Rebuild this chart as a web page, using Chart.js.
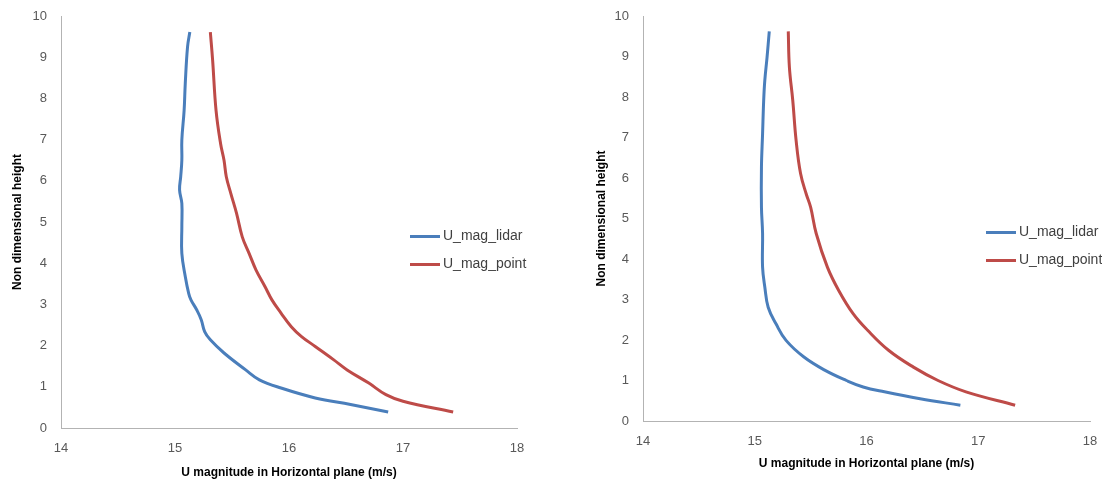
<!DOCTYPE html>
<html>
<head>
<meta charset="utf-8">
<script src="https://cdn.jsdelivr.net/npm/chart.js@4.4.1/dist/chart.umd.min.js"></script>
<style>
    html, body { margin: 0; padding: 0; background: #fff; }
    .panel { position: absolute; top: 0; width: 551px; height: 482px; }
    .legend { position: absolute; font: 14px "Liberation Sans", Arial, sans-serif; color: #404040; }
    .legend div { height: 28px; line-height: 28px; white-space: nowrap; }
    .legend span { display: inline-block; width: 30px; height: 3px; vertical-align: middle; margin-right: 3px; }
</style>
</head>
<body>
<div class="panel" style="left:0">
    <canvas id="leftChart" width="551" height="482"></canvas>
    <div class="legend" style="left:410px; top:221px">
        <div><span style="background:#4a7ebb"></span>U_mag_lidar</div>
        <div><span style="background:#be4b48"></span>U_mag_point</div>
    </div>
</div>
<div class="panel" style="left:551px">
    <canvas id="rightChart" width="551" height="482"></canvas>
    <div class="legend" style="left:435px; top:217px">
        <div><span style="background:#4a7ebb"></span>U_mag_lidar</div>
        <div><span style="background:#be4b48"></span>U_mag_point</div>
    </div>
</div>
<script>
// Left chart: velocity (x) vs non dimensional height (y)
const leftLidarU = [15.13, 15.11, 15.09, 15.08, 15.06, 15.06, 15.05, 15.04, 15.06, 15.06, 15.06, 15.09, 15.12, 15.14, 15.19, 15.23, 15.26, 15.31, 15.43, 15.62, 15.74, 15.93, 16.23, 16.54, 16.87];
const leftLidarH = [9.61, 9.25, 8.36, 7.71, 6.99, 6.5, 6.1, 5.78, 5.45, 4.89, 4.24, 3.68, 3.27, 3.11, 2.87, 2.63, 2.34, 2.14, 1.82, 1.41, 1.17, 0.97, 0.73, 0.57, 0.39];
const leftPointU = [15.31, 15.33, 15.36, 15.40, 15.43, 15.45, 15.49, 15.54, 15.59, 15.65, 15.71, 15.79, 15.85, 15.93, 16.02, 16.11, 16.23, 16.39, 16.51, 16.70, 16.85, 17.00, 17.44];
const leftPointH = [9.61, 8.93, 7.71, 6.9, 6.5, 6.1, 5.69, 5.21, 4.64, 4.24, 3.84, 3.43, 3.11, 2.79, 2.46, 2.22, 1.98, 1.66, 1.41, 1.09, 0.81, 0.65, 0.39];

// Right chart
const rightLidarU = [15.13, 15.11, 15.09, 15.08, 15.07, 15.06, 15.06, 15.07, 15.07, 15.09, 15.12, 15.19, 15.28, 15.44, 15.63, 15.82, 15.97, 16.16, 16.48, 16.84];
const rightLidarH = [9.62, 8.98, 8.41, 7.92, 7.09, 6.27, 5.28, 4.63, 3.80, 3.31, 2.81, 2.40, 1.99, 1.58, 1.25, 1.00, 0.84, 0.72, 0.55, 0.39];
const rightPointU = [15.30, 15.31, 15.34, 15.37, 15.41, 15.46, 15.50, 15.55, 15.65, 15.75, 15.88, 16.01, 16.20, 16.42, 16.64, 16.89, 17.33];
const rightPointH = [9.62, 8.74, 7.92, 6.93, 6.11, 5.61, 5.28, 4.63, 3.80, 3.23, 2.65, 2.24, 1.74, 1.33, 1.00, 0.72, 0.39];

const seriesNames = ['U_mag_lidar', 'U_mag_point'];
const xTicks = [14, 15, 16, 17, 18];
const yTicks = [0, 1, 2, 3, 4, 5, 6, 7, 8, 9, 10];

const BLUE = '#4a7ebb';
const RED = '#be4b48';
const FONT = '"Liberation Sans", Arial, sans-serif';

function toPoints(xs, ys) {
    return xs.map((x, i) => ({ x: x, y: ys[i] }));
}

// invisible tick marks push the labels away from the axis without
// adding to the layout padding the way ticks.padding does
function hiddenTicks(len) {
    return { display: true, drawOnChartArea: false, drawTicks: true, tickLength: len, tickColor: 'rgba(0,0,0,0)', color: 'rgba(0,0,0,0)' };
}

function makeChart(id, lidar, point, box) {
    const ctx = document.getElementById(id);
    return new Chart(ctx, {
        type: 'scatter',
        data: {
            datasets: [
                { label: seriesNames[0], data: lidar, borderColor: BLUE, backgroundColor: BLUE },
                { label: seriesNames[1], data: point, borderColor: RED, backgroundColor: RED }
            ]
        },
        options: {
            responsive: false,
            animation: false,
            showLine: true,
            elements: {
                line: { borderWidth: 3, tension: 0.4 },
                point: { radius: 0, hoverRadius: 0 }
            },
            layout: { padding: { top: box.top, right: box.right, left: 0, bottom: 0 } },
            plugins: { legend: { display: false }, tooltip: { enabled: false } },
            scales: {
                x: {
                    type: 'linear',
                    min: xTicks[0],
                    max: xTicks[xTicks.length - 1],
                    afterBuildTicks: s => { s.ticks = xTicks.map(v => ({ value: v })); },
                    afterFit: s => { s.height = box.xHeight; },
                    grid: hiddenTicks(13),
                    border: { color: '#b3b3b3', width: 1 },
                    ticks: { color: '#595959', font: { family: FONT, size: 13 }, padding: 0 },
                    title: {
                        display: true,
                        text: 'U magnitude in Horizontal plane (m/s)',
                        color: '#000',
                        font: { family: FONT, size: 12, weight: 'bold' },
                        padding: { top: 0, bottom: box.xTitlePad }
                    }
                },
                y: {
                    type: 'linear',
                    min: yTicks[0],
                    max: yTicks[yTicks.length - 1],
                    afterBuildTicks: s => { s.ticks = yTicks.map(v => ({ value: v })); },
                    afterFit: s => { s.width = box.yWidth; },
                    grid: hiddenTicks(14),
                    border: { color: '#b3b3b3', width: 1 },
                    ticks: { color: '#595959', font: { family: FONT, size: 13 }, padding: 0 },
                    title: {
                        display: true,
                        text: 'Non dimensional height',
                        color: '#000',
                        font: { family: FONT, size: 12, weight: 'bold' },
                        padding: { top: box.yTitlePad, bottom: 0 }
                    }
                }
            }
        }
    });
}

makeChart('leftChart', toPoints(leftLidarU, leftLidarH), toPoints(leftPointU, leftPointH),
    { top: 16, right: 34, yWidth: 61, xHeight: 54, yTitlePad: 10, xTitlePad: 2 });
makeChart('rightChart', toPoints(rightLidarU, rightLidarH), toPoints(rightPointU, rightPointH),
    { top: 16, right: 12, yWidth: 92, xHeight: 61, yTitlePad: 43, xTitlePad: 11 });
</script>
</body>
</html>
